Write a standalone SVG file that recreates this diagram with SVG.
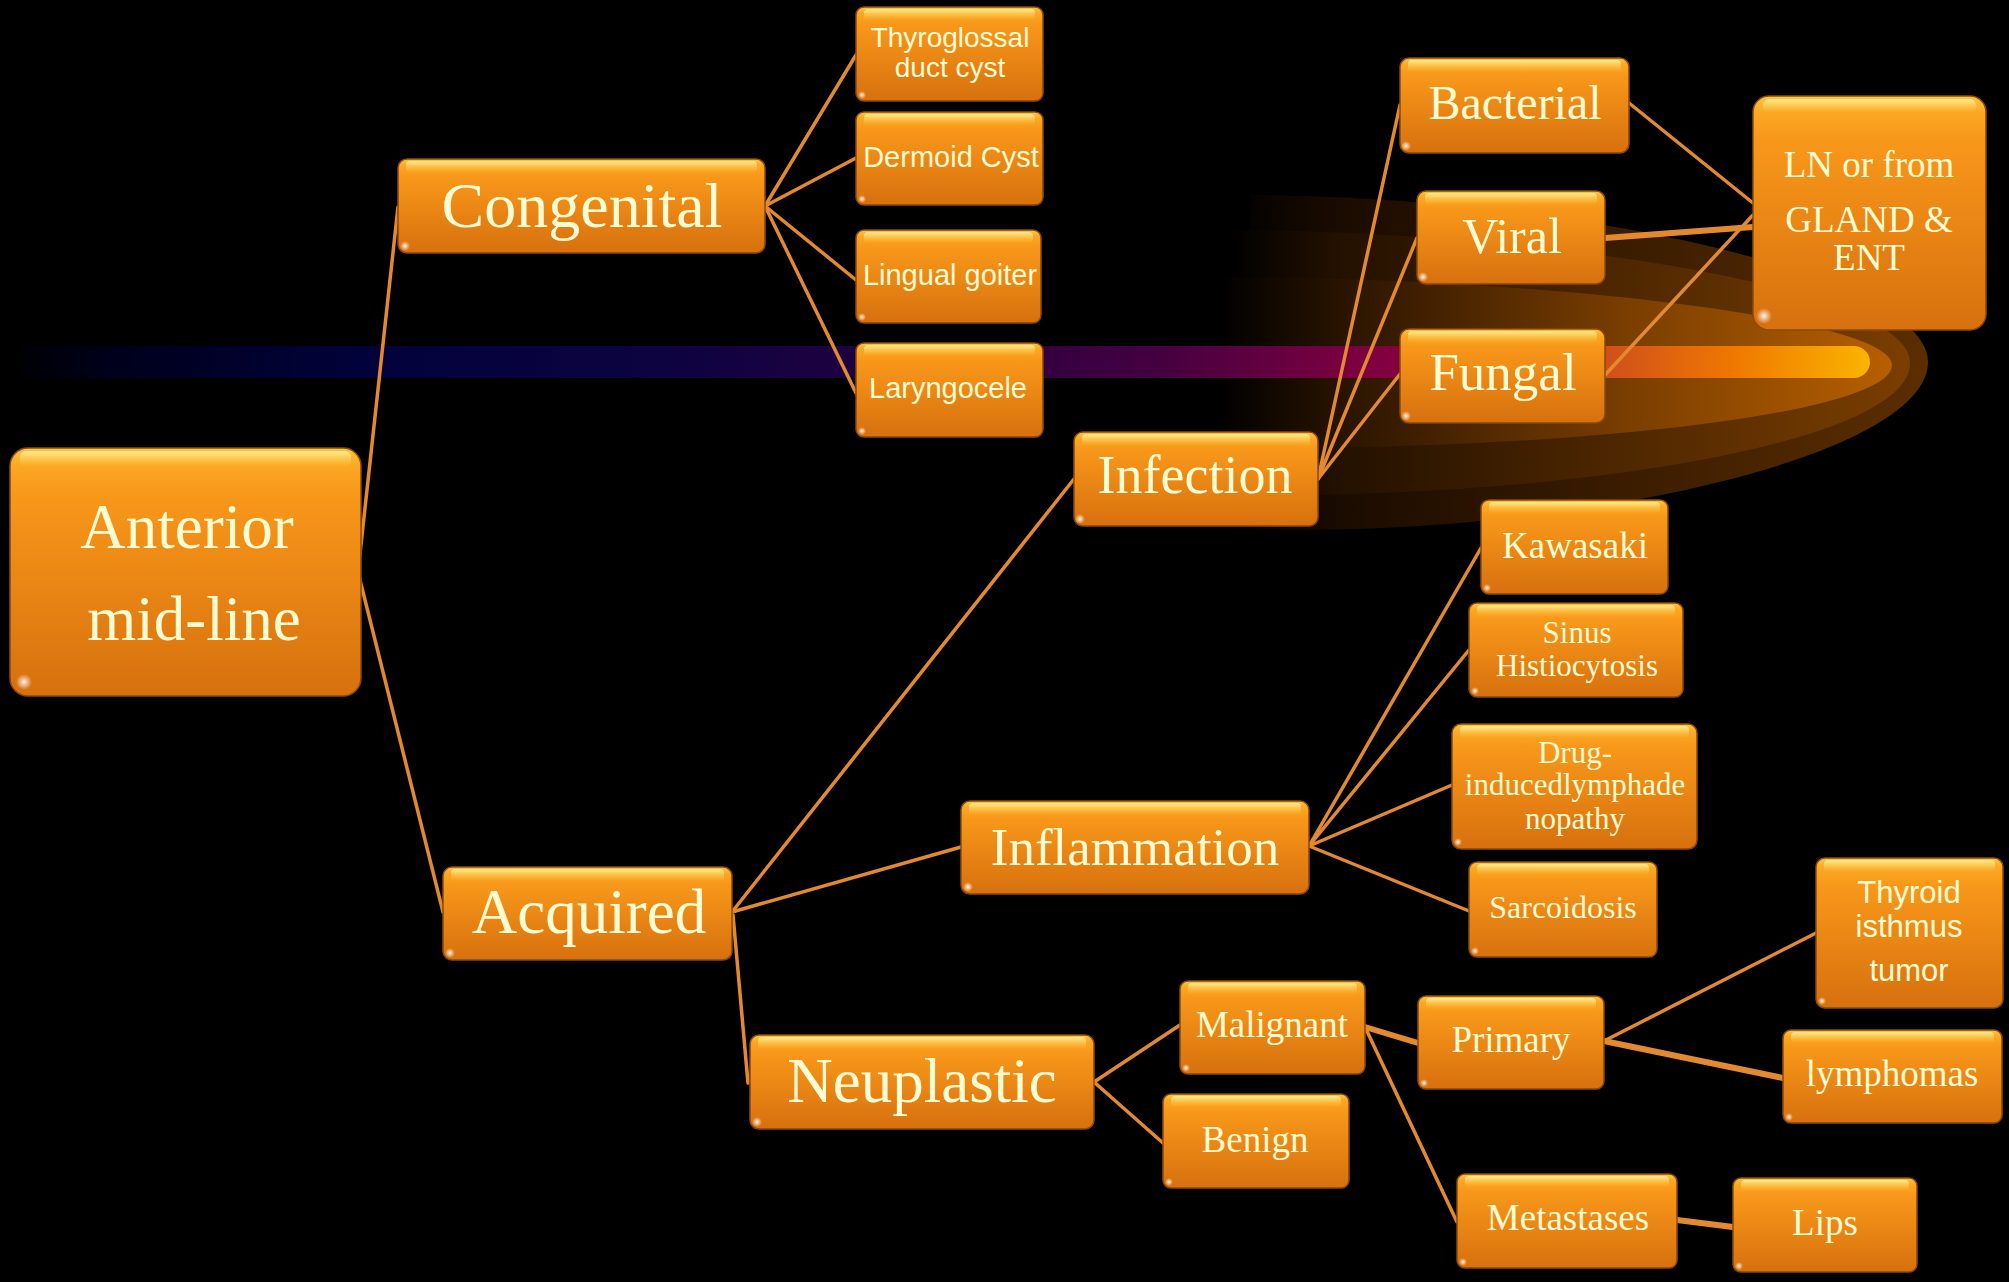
<svg xmlns="http://www.w3.org/2000/svg" width="2009" height="1282" viewBox="0 0 2009 1282">
<defs>
<linearGradient id="bf" x1="0" y1="0" x2="0" y2="1">
<stop offset="0" stop-color="#fcc640"/>
<stop offset="0.07" stop-color="#fba824"/>
<stop offset="0.18" stop-color="#f8981a"/>
<stop offset="1" stop-color="#d7700e"/>
</linearGradient>
<linearGradient id="gl" x1="0" y1="0" x2="0" y2="1">
<stop offset="0" stop-color="#fff2a0" stop-opacity="0.85"/>
<stop offset="1" stop-color="#ffd050" stop-opacity="0"/>
</linearGradient>
<radialGradient id="glint" cx="0.5" cy="0.5" r="0.5">
<stop offset="0" stop-color="#ffffff" stop-opacity="0.9"/>
<stop offset="1" stop-color="#ffffff" stop-opacity="0"/>
</radialGradient>
<linearGradient id="bar" x1="0" y1="0" x2="1870" y2="0" gradientUnits="userSpaceOnUse">
<stop offset="0" stop-color="#000000"/>
<stop offset="0.06" stop-color="#00001c"/>
<stop offset="0.2" stop-color="#02023c"/>
<stop offset="0.35" stop-color="#0c0340"/>
<stop offset="0.5" stop-color="#260040"/>
<stop offset="0.62" stop-color="#440040"/>
<stop offset="0.72" stop-color="#7a0040"/>
<stop offset="0.76" stop-color="#880040"/>
<stop offset="0.86" stop-color="#d0501a"/>
<stop offset="0.93" stop-color="#f07a00"/>
<stop offset="1" stop-color="#fbb400"/>
</linearGradient>
<linearGradient id="g1" x1="1230" y1="0" x2="1930" y2="0" gradientUnits="userSpaceOnUse">
<stop offset="0" stop-color="#000000"/>
<stop offset="0.15" stop-color="#1a0b00"/>
<stop offset="1" stop-color="#5c2e00"/>
</linearGradient>
<linearGradient id="g2" x1="1230" y1="0" x2="1910" y2="0" gradientUnits="userSpaceOnUse">
<stop offset="0" stop-color="#000000"/>
<stop offset="0.15" stop-color="#221000"/>
<stop offset="1" stop-color="#7a3e00"/>
</linearGradient>
<linearGradient id="g3" x1="1220" y1="0" x2="1900" y2="0" gradientUnits="userSpaceOnUse">
<stop offset="0" stop-color="#000000"/>
<stop offset="0.2" stop-color="#2e1600"/>
<stop offset="0.6" stop-color="#7a3e00"/>
<stop offset="1" stop-color="#b86000"/>
</linearGradient>
</defs>
<style>
.box{fill:url(#bf);stroke:#8c4a06;stroke-width:1.5}
.gl{fill:url(#gl)}
.gt{fill:url(#glint)}
.t{fill:#fffbd2;text-anchor:middle;font-family:"Liberation Serif","Times New Roman",serif}
.s{fill:#fffbd2;text-anchor:middle;font-family:"Liberation Sans",Arial,sans-serif}
.c{stroke:#e38a30;stroke-width:3.5;fill:none;stroke-linecap:round}
.w{stroke-width:6}
</style>
<rect width="2009" height="1282" fill="#000000"/>
<g id="background">
<path d="M1251,195 C1600,198 1928,280 1928,362 C1928,450 1620,528 1300,530 L1240,530 Z" fill="url(#g1)"/>
<path d="M1233,230 C1560,232 1910,290 1910,363 C1910,440 1600,492 1300,495 L1233,495 Z" fill="url(#g2)"/>
<path d="M1223,277 C1560,278 1892,320 1892,365 C1892,412 1600,446 1300,448 L1223,448 Z" fill="url(#g3)"/>
<path d="M20,346 L1854,346 A16,16 0 0 1 1854,378 L20,378 Z" fill="url(#bar)"/>
</g>
<g id="connectors">
<line class="c" x1="358" y1="572" x2="398" y2="207"/>
<line class="c" x1="358" y1="572" x2="443" y2="912"/>
<line class="c" x1="765" y1="206" x2="856" y2="55"/>
<line class="c" x1="765" y1="206" x2="856" y2="158"/>
<line class="c" x1="765" y1="206" x2="856" y2="280"/>
<line class="c" x1="765" y1="206" x2="856" y2="393"/>
<line class="c" x1="732" y1="912" x2="1074" y2="479"/>
<line class="c" x1="732" y1="912" x2="961" y2="847"/>
<line class="c" x1="733" y1="915" x2="748" y2="1083"/>
<line class="c" x1="1318" y1="479" x2="1400" y2="105"/>
<line class="c" x1="1318" y1="479" x2="1417" y2="238"/>
<line class="c" x1="1318" y1="479" x2="1400" y2="374"/>
<line class="c" x1="1629" y1="103" x2="1753" y2="203"/>
<line class="c w" x1="1605" y1="238" x2="1753" y2="227"/>
<line class="c" x1="1605" y1="375" x2="1753" y2="215"/>
<line class="c" x1="1309" y1="846" x2="1481" y2="548"/>
<line class="c" x1="1309" y1="846" x2="1469" y2="650"/>
<line class="c" x1="1309" y1="846" x2="1452" y2="785"/>
<line class="c" x1="1309" y1="846" x2="1469" y2="911"/>
<line class="c" x1="1094" y1="1082" x2="1180" y2="1025"/>
<line class="c" x1="1094" y1="1082" x2="1163" y2="1143"/>
<line class="c w" x1="1365" y1="1027" x2="1418" y2="1043"/>
<line class="c" x1="1365" y1="1027" x2="1457" y2="1222"/>
<line class="c" x1="1604" y1="1041" x2="1816" y2="933"/>
<line class="c w" x1="1604" y1="1041" x2="1783" y2="1078"/>
<line class="c w" x1="1677" y1="1220" x2="1733" y2="1227"/>
</g>
<g id="anterior">
<rect class="box" x="10" y="448" width="351" height="248" rx="18"/>
<rect class="gl" x="20" y="451" width="331" height="16" rx="6"/>
<ellipse class="gt" cx="24" cy="682" rx="8" ry="8"/>
<text class="t" x="187" y="548" font-size="63">Anterior</text>
<text class="t" x="194" y="640" font-size="63">mid-line</text>
</g>
<g id="congenital">
<rect class="box" x="398" y="159" width="367" height="94" rx="9"/>
<rect class="gl" x="406" y="161" width="351" height="12" rx="4"/>
<ellipse class="gt" cx="405" cy="246" rx="5" ry="5"/>
<text class="t" x="582" y="227" font-size="64">Congenital</text>
</g>
<g id="thyroglossal">
<rect class="box" x="856" y="7" width="187" height="94" rx="8"/>
<rect class="gl" x="864" y="9" width="171" height="11" rx="4"/>
<ellipse class="gt" cx="862" cy="95" rx="4" ry="4"/>
<text class="s" x="950" y="47" font-size="28">Thyroglossal</text>
<text class="s" x="950" y="77" font-size="28">duct cyst</text>
</g>
<g id="dermoid">
<rect class="box" x="856" y="112" width="187" height="93" rx="8"/>
<rect class="gl" x="864" y="114" width="171" height="11" rx="4"/>
<ellipse class="gt" cx="862" cy="199" rx="4" ry="4"/>
<text class="s" x="951" y="167" font-size="29">Dermoid Cyst</text>
</g>
<g id="lingual">
<rect class="box" x="856" y="230" width="185" height="93" rx="8"/>
<rect class="gl" x="864" y="232" width="169" height="11" rx="4"/>
<ellipse class="gt" cx="862" cy="317" rx="4" ry="4"/>
<text class="s" x="950" y="285" font-size="29">Lingual goiter</text>
</g>
<g id="laryngocele">
<rect class="box" x="856" y="343" width="187" height="94" rx="8"/>
<rect class="gl" x="864" y="345" width="171" height="11" rx="4"/>
<ellipse class="gt" cx="862" cy="431" rx="4" ry="4"/>
<text class="s" x="948" y="398" font-size="29">Laryngocele</text>
</g>
<g id="acquired">
<rect class="box" x="443" y="867" width="289" height="93" rx="9"/>
<rect class="gl" x="451" y="869" width="273" height="12" rx="4"/>
<ellipse class="gt" cx="450" cy="953" rx="5" ry="5"/>
<text class="t" x="589" y="933" font-size="63">Acquired</text>
</g>
<g id="infection">
<rect class="box" x="1074" y="432" width="244" height="94" rx="9"/>
<rect class="gl" x="1082" y="434" width="228" height="12" rx="4"/>
<ellipse class="gt" cx="1080" cy="519" rx="5" ry="5"/>
<text class="t" x="1195" y="493" font-size="54">Infection</text>
</g>
<g id="bacterial">
<rect class="box" x="1400" y="58" width="229" height="95" rx="9"/>
<rect class="gl" x="1408" y="60" width="213" height="12" rx="4"/>
<ellipse class="gt" cx="1406" cy="146" rx="5" ry="5"/>
<text class="t" x="1515" y="119" font-size="48">Bacterial</text>
</g>
<g id="viral">
<rect class="box" x="1417" y="191" width="188" height="93" rx="9"/>
<rect class="gl" x="1425" y="193" width="172" height="12" rx="4"/>
<ellipse class="gt" cx="1423" cy="277" rx="5" ry="5"/>
<text class="t" x="1512" y="253" font-size="50">Viral</text>
</g>
<g id="fungal">
<rect class="box" x="1400" y="329" width="205" height="94" rx="9"/>
<rect class="gl" x="1408" y="331" width="189" height="12" rx="4"/>
<ellipse class="gt" cx="1406" cy="416" rx="5" ry="5"/>
<text class="t" x="1503" y="390" font-size="53">Fungal</text>
</g>
<g id="ln">
<rect class="box" x="1753" y="96" width="233" height="234" rx="16"/>
<rect class="gl" x="1763" y="99" width="213" height="14" rx="6"/>
<ellipse class="gt" cx="1764" cy="316" rx="8" ry="8"/>
<text class="t" x="1869" y="177" font-size="37">LN or from</text>
<text class="t" x="1869" y="232" font-size="37">GLAND &amp;</text>
<text class="t" x="1869" y="270" font-size="37">ENT</text>
</g>
<g id="inflammation">
<rect class="box" x="961" y="801" width="348" height="93" rx="9"/>
<rect class="gl" x="969" y="803" width="332" height="12" rx="4"/>
<ellipse class="gt" cx="968" cy="887" rx="5" ry="5"/>
<text class="t" x="1135" y="865" font-size="53">Inflammation</text>
</g>
<g id="kawasaki">
<rect class="box" x="1481" y="500" width="187" height="94" rx="8"/>
<rect class="gl" x="1489" y="502" width="171" height="11" rx="4"/>
<ellipse class="gt" cx="1487" cy="588" rx="4" ry="4"/>
<text class="t" x="1575" y="558" font-size="37">Kawasaki</text>
</g>
<g id="sinus">
<rect class="box" x="1469" y="603" width="214" height="94" rx="8"/>
<rect class="gl" x="1477" y="605" width="198" height="11" rx="4"/>
<ellipse class="gt" cx="1475" cy="691" rx="4" ry="4"/>
<text class="t" x="1577" y="643" font-size="31">Sinus</text>
<text class="t" x="1577" y="676" font-size="31">Histiocytosis</text>
</g>
<g id="drug">
<rect class="box" x="1452" y="724" width="245" height="125" rx="9"/>
<rect class="gl" x="1460" y="726" width="229" height="12" rx="4"/>
<ellipse class="gt" cx="1458" cy="842" rx="4" ry="4"/>
<text class="t" x="1575" y="763" font-size="31">Drug-</text>
<text class="t" x="1575" y="795" font-size="31">inducedlymphade</text>
<text class="t" x="1575" y="829" font-size="31">nopathy</text>
</g>
<g id="sarcoidosis">
<rect class="box" x="1469" y="862" width="188" height="95" rx="8"/>
<rect class="gl" x="1477" y="864" width="172" height="11" rx="4"/>
<ellipse class="gt" cx="1475" cy="951" rx="4" ry="4"/>
<text class="t" x="1563" y="918" font-size="32">Sarcoidosis</text>
</g>
<g id="neuplastic">
<rect class="box" x="750" y="1035" width="344" height="94" rx="9"/>
<rect class="gl" x="758" y="1037" width="328" height="12" rx="4"/>
<ellipse class="gt" cx="757" cy="1122" rx="5" ry="5"/>
<text class="t" x="922" y="1102" font-size="63">Neuplastic</text>
</g>
<g id="malignant">
<rect class="box" x="1180" y="981" width="185" height="93" rx="8"/>
<rect class="gl" x="1188" y="983" width="169" height="11" rx="4"/>
<ellipse class="gt" cx="1186" cy="1068" rx="4" ry="4"/>
<text class="t" x="1272" y="1037" font-size="37">Malignant</text>
</g>
<g id="benign">
<rect class="box" x="1163" y="1094" width="186" height="94" rx="8"/>
<rect class="gl" x="1171" y="1096" width="170" height="11" rx="4"/>
<ellipse class="gt" cx="1169" cy="1182" rx="4" ry="4"/>
<text class="t" x="1255" y="1152" font-size="37">Benign</text>
</g>
<g id="primary">
<rect class="box" x="1418" y="996" width="186" height="93" rx="8"/>
<rect class="gl" x="1426" y="998" width="170" height="11" rx="4"/>
<ellipse class="gt" cx="1424" cy="1083" rx="4" ry="4"/>
<text class="t" x="1511" y="1052" font-size="37">Primary</text>
</g>
<g id="metastases">
<rect class="box" x="1457" y="1174" width="220" height="94" rx="8"/>
<rect class="gl" x="1465" y="1176" width="204" height="11" rx="4"/>
<ellipse class="gt" cx="1463" cy="1262" rx="4" ry="4"/>
<text class="t" x="1568" y="1230" font-size="37">Metastases</text>
</g>
<g id="lips">
<rect class="box" x="1733" y="1178" width="184" height="94" rx="8"/>
<rect class="gl" x="1741" y="1180" width="168" height="11" rx="4"/>
<ellipse class="gt" cx="1739" cy="1266" rx="4" ry="4"/>
<text class="t" x="1825" y="1235" font-size="37">Lips</text>
</g>
<g id="thyroid">
<rect class="box" x="1816" y="858" width="187" height="150" rx="9"/>
<rect class="gl" x="1824" y="860" width="171" height="12" rx="4"/>
<ellipse class="gt" cx="1822" cy="1001" rx="4" ry="4"/>
<text class="s" x="1909" y="903" font-size="31">Thyroid</text>
<text class="s" x="1909" y="937" font-size="31">isthmus</text>
<text class="s" x="1909" y="981" font-size="31">tumor</text>
</g>
<g id="lymphomas">
<rect class="box" x="1783" y="1030" width="219" height="93" rx="8"/>
<rect class="gl" x="1791" y="1032" width="203" height="11" rx="4"/>
<ellipse class="gt" cx="1789" cy="1117" rx="4" ry="4"/>
<text class="t" x="1892" y="1086" font-size="37">lymphomas</text>
</g>
</svg>
